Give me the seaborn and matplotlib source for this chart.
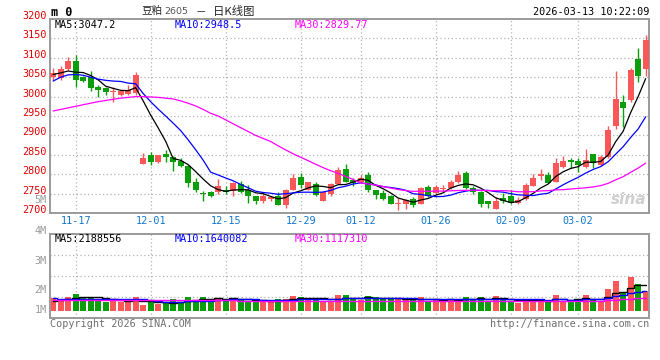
import matplotlib
matplotlib.use('Agg')
import matplotlib.pyplot as plt
import matplotlib.transforms as mtransforms
import numpy as np
import pandas as pd
import seaborn as sns

# ---- data (price in yuan/t, volume in millions) ----
dates = ['11-12', '11-13', '11-14', '11-17', '11-18', '11-19', '11-20', '11-21', '11-24', '11-25',
         '11-26', '11-27', '11-28', '12-01', '12-02', '12-03', '12-04', '12-05', '12-08', '12-09',
         '12-10', '12-11', '12-12', '12-15', '12-16', '12-17', '12-18', '12-19', '12-22', '12-23',
         '12-24', '12-25', '12-26', '12-29', '12-30', '12-31', '01-05', '01-06', '01-07', '01-08',
         '01-09', '01-12', '01-13', '01-14', '01-15', '01-16', '01-19', '01-20', '01-21', '01-22',
         '01-23', '01-26', '01-27', '01-28', '01-29', '01-30', '02-02', '02-03', '02-04', '02-05',
         '02-06', '02-09', '02-10', '02-11', '02-12', '02-13', '02-24', '02-25', '02-26', '02-27',
         '03-02', '03-03', '03-04', '03-05', '03-06', '03-09', '03-10', '03-11', '03-12', '03-13']

opens = [3050, 3048, 3070, 3091, 3050, 3050, 3025, 3022, 3013, 3005,
         3007, 3008, 2827, 2849, 2832, 2852, 2845, 2835, 2821, 2781,
         2751, 2755, 2753, 2758, 2756, 2774, 2760, 2745, 2732, 2736,
         2745, 2721, 2759, 2794, 2760, 2775, 2732, 2748, 2775, 2814,
         2785, 2779, 2798, 2760, 2751, 2743, 2723, 2724, 2735, 2724,
         2767, 2752, 2762, 2764, 2779, 2804, 2764, 2753, 2732, 2711,
         2738, 2744, 2725, 2736, 2770, 2796, 2798, 2781, 2819, 2836,
         2834, 2819, 2852, 2823, 2845, 2923, 2987, 2990, 3098, 3072]
closes = [3061, 3072, 3093, 3044, 3040, 3023, 3016, 3012, 3015, 3015,
          3018, 3055, 2843, 2832, 2850, 2845, 2832, 2820, 2777, 2760,
          2749, 2745, 2770, 2755, 2777, 2753, 2744, 2732, 2743, 2742,
          2721, 2760, 2791, 2772, 2779, 2747, 2753, 2775, 2811, 2781,
          2778, 2791, 2760, 2747, 2737, 2724, 2725, 2733, 2720, 2765,
          2744, 2767, 2764, 2781, 2799, 2764, 2755, 2722, 2723, 2732,
          2731, 2727, 2734, 2772, 2789, 2800, 2778, 2830, 2834, 2832,
          2823, 2836, 2828, 2845, 2915, 2994, 2971, 3068, 3052, 3146]
highs = [3074, 3080, 3102, 3108, 3052, 3066, 3030, 3024, 3024, 3018,
         3029, 3063, 2854, 2858, 2850, 2862, 2847, 2843, 2823, 2791,
         2757, 2757, 2788, 2770, 2779, 2782, 2773, 2745, 2753, 2745,
         2754, 2763, 2801, 2804, 2781, 2781, 2756, 2777, 2818, 2826,
         2790, 2798, 2806, 2760, 2758, 2747, 2739, 2736, 2741, 2767,
         2772, 2772, 2772, 2785, 2807, 2807, 2770, 2757, 2732, 2742,
         2751, 2759, 2741, 2778, 2800, 2813, 2805, 2843, 2846, 2842,
         2843, 2866, 2853, 2849, 2923, 3066, 3005, 3075, 3124, 3160]
lows = [3044, 3044, 3068, 3025, 3037, 3014, 2999, 3005, 2986, 3001,
        3004, 3005, 2827, 2824, 2828, 2832, 2809, 2818, 2768, 2753,
        2730, 2740, 2749, 2749, 2743, 2751, 2727, 2724, 2725, 2732,
        2720, 2714, 2758, 2764, 2758, 2744, 2730, 2745, 2774, 2779,
        2770, 2777, 2753, 2737, 2734, 2722, 2707, 2710, 2716, 2723,
        2741, 2749, 2755, 2761, 2777, 2761, 2748, 2715, 2714, 2710,
        2725, 2724, 2724, 2734, 2770, 2785, 2778, 2780, 2817, 2815,
        2806, 2817, 2817, 2822, 2843, 2916, 2921, 2987, 3037, 3054]

ma5 = [3057, 3061, 3066, 3063, 3062.0, 3054.4, 3043.2, 3027.0, 3021.2, 3016.2,
       3015.2, 3023.0, 2989.2, 2952.6, 2919.6, 2885.0, 2840.4, 2835.8, 2824.8, 2806.8,
       2787.6, 2770.2, 2760.2, 2755.8, 2759.2, 2760.0, 2759.8, 2752.2, 2749.8, 2742.8,
       2736.4, 2739.6, 2751.4, 2757.2, 2764.6, 2769.8, 2768.4, 2765.2, 2773.0, 2773.4,
       2779.6, 2787.2, 2784.2, 2771.4, 2762.6, 2751.8, 2738.6, 2733.2, 2727.8, 2733.4,
       2737.4, 2745.8, 2752.0, 2764.2, 2771.0, 2775.0, 2772.6, 2764.2, 2752.6, 2739.2,
       2732.6, 2727.0, 2729.4, 2739.2, 2750.6, 2764.4, 2774.6, 2793.8, 2806.2, 2814.8,
       2819.4, 2831.0, 2830.6, 2832.8, 2849.4, 2883.6, 2910.6, 2958.6, 3000.0, 3046.2]
ma10 = [3040, 3050, 3056, 3057, 3055, 3050, 3045, 3042, 3040, 3039.1,
        3034.8, 3033.1, 3008.1, 2986.9, 2967.9, 2950.1, 2931.7, 2912.5, 2888.7, 2863.2,
        2836.3, 2805.3, 2798.0, 2790.3, 2783.0, 2773.8, 2765.0, 2756.2, 2752.8, 2751.0,
        2748.2, 2749.7, 2751.8, 2753.5, 2753.7, 2753.1, 2754.0, 2758.3, 2765.1, 2769.0,
        2774.7, 2777.8, 2774.7, 2772.2, 2768.0, 2765.7, 2762.9, 2758.7, 2749.6, 2748.0,
        2744.6, 2742.2, 2742.6, 2746.0, 2752.2, 2756.2, 2759.2, 2758.1, 2758.4, 2755.1,
        2753.8, 2749.8, 2746.8, 2745.9, 2744.9, 2748.5, 2750.8, 2761.6, 2772.7, 2782.7,
        2791.9, 2802.8, 2812.2, 2819.5, 2832.1, 2851.5, 2870.8, 2894.6, 2916.4, 2947.8]
ma30 = [2963, 2967, 2971, 2975, 2979, 2983, 2987, 2990, 2993, 2996,
        2998, 3000, 3000, 2999, 2998, 2996, 2994, 2989, 2983, 2976,
        2967, 2957, 2950, 2940, 2930, 2920, 2910, 2900, 2892, 2884.4,
        2873.1, 2862.7, 2852.6, 2843.6, 2834.9, 2825.7, 2816.9, 2809.0, 2802.2, 2794.4,
        2786.4, 2777.6, 2774.8, 2772.0, 2768.2, 2764.2, 2760.6, 2757.7, 2755.8, 2756.0,
        2755.8, 2756.6, 2756.4, 2757.2, 2758.0, 2758.3, 2758.7, 2758.4, 2757.7, 2757.4,
        2757.7, 2756.6, 2754.7, 2754.7, 2755.0, 2756.8, 2757.6, 2759.5, 2760.2, 2761.9,
        2763.4, 2764.9, 2767.2, 2770.5, 2776.4, 2785.4, 2793.6, 2804.8, 2815.8, 2828.5]

volume = [1.10, 1.02, 1.25, 1.48, 1.25, 1.10, 0.96, 0.81, 0.96, 0.81,
          0.81, 1.25, 0.52, 0.75, 0.58, 0.72, 1.02, 0.72, 1.25, 0.90,
          1.25, 0.96, 1.16, 0.96, 1.13, 0.96, 0.81, 0.81, 0.96, 0.81,
          1.04, 1.04, 1.33, 1.25, 1.04, 1.02, 0.90, 0.81, 1.39, 1.39,
          1.02, 0.96, 1.30, 1.19, 1.02, 1.04, 1.10, 1.02, 0.96, 1.22,
          0.87, 1.02, 0.87, 1.04, 1.04, 1.19, 1.04, 1.19, 0.90, 1.30,
          1.02, 0.87, 0.72, 1.04, 1.04, 0.96, 0.81, 1.39, 0.90, 0.90,
          1.04, 1.39, 0.96, 0.90, 1.91, 2.61, 1.68, 2.96, 2.35, 1.74]
vol_ma5 = [0.90, 0.95, 1.00, 1.10, 1.22, 1.22, 1.21, 1.12, 1.02, 0.93,
           0.87, 0.93, 0.87, 0.83, 0.78, 0.76, 0.72, 0.76, 0.86, 0.92,
           1.03, 1.02, 1.10, 1.05, 1.09, 1.03, 1.00, 0.93, 0.93, 0.87,
           0.89, 0.93, 1.04, 1.09, 1.14, 1.14, 1.11, 1.00, 1.03, 1.10,
           1.10, 1.11, 1.21, 1.17, 1.10, 1.10, 1.13, 1.07, 1.03, 1.07,
           1.03, 1.02, 0.99, 1.00, 0.97, 1.03, 1.04, 1.10, 1.07, 1.12,
           1.09, 1.06, 0.96, 0.99, 0.94, 0.93, 0.91, 1.05, 1.02, 0.99,
           1.01, 1.12, 1.04, 1.04, 1.24, 1.55, 1.61, 2.01, 2.30, 2.27]
vol_ma10 = [1.10, 1.08, 1.06, 1.06, 1.05, 1.04, 1.03, 1.03, 1.05, 1.07,
            1.05, 1.07, 1.00, 0.92, 0.86, 0.82, 0.82, 0.81, 0.84, 0.85,
            0.90, 0.87, 0.93, 0.95, 1.01, 1.03, 1.01, 1.02, 0.99, 0.98,
            0.96, 0.97, 0.99, 1.01, 1.01, 1.01, 1.02, 1.02, 1.06, 1.12,
            1.12, 1.11, 1.11, 1.10, 1.10, 1.10, 1.12, 1.14, 1.10, 1.08,
            1.07, 1.07, 1.03, 1.02, 1.02, 1.03, 1.03, 1.04, 1.04, 1.05,
            1.06, 1.05, 1.03, 1.03, 1.03, 1.01, 0.99, 1.01, 1.01, 0.97,
            0.97, 1.02, 1.04, 1.03, 1.12, 1.28, 1.37, 1.53, 1.67, 1.75]
vol_ma30 = [0.96, 0.96, 0.96, 0.96, 0.96, 0.96, 0.96, 0.96, 0.96, 0.96,
            0.95, 0.95, 0.95, 0.94, 0.94, 0.94, 0.93, 0.93, 0.93, 0.93,
            0.92, 0.92, 0.92, 0.92, 0.92, 0.91, 0.91, 0.91, 0.91, 0.91,
            0.91, 0.91, 0.91, 0.91, 0.91, 0.91, 0.91, 0.91, 0.91, 0.91,
            0.90, 0.90, 0.90, 0.90, 0.90, 0.90, 0.90, 0.90, 0.90, 0.90,
            0.90, 0.90, 0.90, 0.90, 0.90, 0.90, 0.90, 0.90, 0.89, 0.89,
            0.88, 0.88, 0.88, 0.88, 0.88, 0.88, 0.88, 0.88, 0.88, 0.88,
            0.88, 0.88, 0.88, 0.88, 0.92, 0.96, 1.00, 1.05, 1.09, 1.13]

tick_dates = ['11-17', '12-01', '12-15', '12-29', '01-12', '01-26', '02-09', '03-02']
price_ticks = [2700, 2750, 2800, 2850, 2900, 2950, 3000, 3050, 3100, 3150, 3200]
vol_labels = ['5M', '4M', '3M', '2M', '1M']
price_legend = ['MA5:3047.2', 'MA10:2948.5', 'MA30:2829.77']
vol_legend = ['MA5:2188556', 'MA10:1640082', 'MA30:1117310']

# ---- style ----
sns.set_theme(style='white')
MONO = 'DejaVu Sans Mono'
CJK = ['Noto Sans CJK SC', 'DejaVu Sans']
RED = '#fa5858'
GREEN = '#0a9e0a'
GRID = '#b4b4b4'
FRAME = '#9a9a9a'
MA_COLORS = ['black', '#0000ff', '#ff00ff']

W, H = 660, 360
fig = plt.figure(figsize=(W / 100, H / 100), dpi=100)
fig.patch.set_facecolor('white')


def box(left, top, right, bottom):
    return [left / W, 1 - bottom / H, (right - left) / W, (bottom - top) / H]


ax = fig.add_axes(box(50.5, 19, 649, 213))
axv = fig.add_axes(box(50.5, 234, 649, 318))

df = pd.DataFrame({'idx': np.arange(len(dates)), 'open': opens, 'close': closes,
                   'high': highs, 'low': lows, 'ma5': ma5, 'ma10': ma10, 'ma30': ma30,
                   'vol': volume, 'vma5': vol_ma5, 'vma10': vol_ma10, 'vma30': vol_ma30})
df['color'] = np.where(df['close'] >= df['open'], RED, GREEN)
tick_pos = [dates.index(d) for d in tick_dates]

for a in (ax, axv):
    a.set_xlim(-0.35, len(dates) - 0.55)
    for s in a.spines.values():
        s.set_color(FRAME)
        s.set_linewidth(1.4)
    a.set_xticks([])
    a.set_yticks([])
    for p in tick_pos:
        a.axvline(p, color=GRID, lw=0.9, ls=(0, (1, 2)), zorder=0)

# ---- price panel ----
ax.set_ylim(price_ticks[0], price_ticks[-1])
for v in price_ticks[1:-1]:
    ax.axhline(v, color=GRID, lw=0.9, ls=(0, (1, 2)), zorder=0)

ax.vlines(df['idx'], df['low'], df['high'], colors=df['color'], lw=1.0, zorder=2)
body = np.maximum((df['close'] - df['open']).abs(), 2.0)
ax.bar(df['idx'], body, bottom=np.minimum(df['open'], df['close']), width=0.78,
       color=df['color'], linewidth=0, zorder=3)

for col, c in zip(['ma5', 'ma10', 'ma30'], MA_COLORS):
    sns.lineplot(data=df, x='idx', y=col, ax=ax, color=c, lw=0.9, zorder=4, legend=False)
ax.set_xlabel('')
ax.set_ylabel('')

lab_tr = mtransforms.offset_copy(ax.get_yaxis_transform(), fig=fig, x=-4, y=3, units='dots')
for v in price_ticks:
    ax.text(0, v, str(v), transform=lab_tr, ha='right', va='center', color='#e00000',
            family=MONO, fontsize=7.3)

for p, d in zip(tick_pos, tick_dates):
    ax.text(p, -0.04, d, transform=ax.get_xaxis_transform(), ha='center', va='center',
            color='#1177cc', family=MONO, fontsize=7.3)

for xp, t, c in zip([55, 175, 295], price_legend, MA_COLORS):
    fig.text(xp / W, 1 - 24.5 / H, t, ha='left', va='center', color=c, family=MONO, fontsize=7.3)

ax.text(0.995, 0.07, 'sina', transform=ax.transAxes, ha='right', va='center',
        color='#cfcfcf', fontsize=11, fontweight='bold', style='italic', zorder=1)

# ---- volume panel ----
axv.set_ylim(-0.61, 6.70)
ylo, yhi = axv.get_ylim()
for f in (0.25, 0.5, 0.75):
    axv.axhline(ylo + f * (yhi - ylo), color=GRID, lw=0.9, ls=(0, (1, 2)), zorder=0)
axv.bar(df['idx'], df['vol'], width=0.78, color=df['color'], linewidth=0, zorder=2)
for col, c in zip(['vma5', 'vma10', 'vma30'], MA_COLORS):
    sns.lineplot(data=df, x='idx', y=col, ax=axv, color=c, lw=1.0, zorder=4,
                 legend=False, drawstyle='steps-mid')
axv.set_xlabel('')
axv.set_ylabel('')

for frac, t in zip([1.405, 1.036, 0.679, 0.333, 0.095], vol_labels):
    axv.text(-0.006, frac, t, transform=axv.transAxes, ha='right', va='center',
             color='#9a9a9a', family=MONO, fontsize=7.3, clip_on=False)

for xp, t, c in zip([55, 175, 295], vol_legend, MA_COLORS):
    fig.text(xp / W, 1 - 238.5 / H, t, ha='left', va='center', color=c, family=MONO, fontsize=7.3)

# ---- header and footer ----
fig.text(51 / W, 1 - 12 / H, 'm 0', ha='left', va='center', family=MONO,
         fontweight='bold', fontsize=8.5, color='black')
fig.text(141 / W, 1 - 11 / H, '豆粕', ha='left', va='center', family=CJK, fontsize=7.6)
fig.text(164 / W, 1 - 11.5 / H, '2605', ha='left', va='center', family='DejaVu Sans',
         fontsize=6.8, color='#555555')
fig.text(196 / W, 1 - 11 / H, '－', ha='left', va='center', family=CJK, fontsize=7.6)
fig.text(213 / W, 1 - 11 / H, '日K线图', ha='left', va='center', family=CJK, fontsize=8.2)
fig.text(649 / W, 1 - 12 / H, '2026-03-13 10:22:09', ha='right', va='center',
         family=MONO, fontsize=7.3, color='black')
fig.text(50 / W, 1 - 324 / H, 'Copyright 2026 SINA.COM', ha='left', va='center',
         family=MONO, fontsize=7.3, color='#707070')
fig.text(649 / W, 1 - 324 / H, 'http://finance.sina.com.cn', ha='right', va='center',
         family=MONO, fontsize=7.3, color='#707070')

fig.savefig('out.png', dpi=100, facecolor='white')
